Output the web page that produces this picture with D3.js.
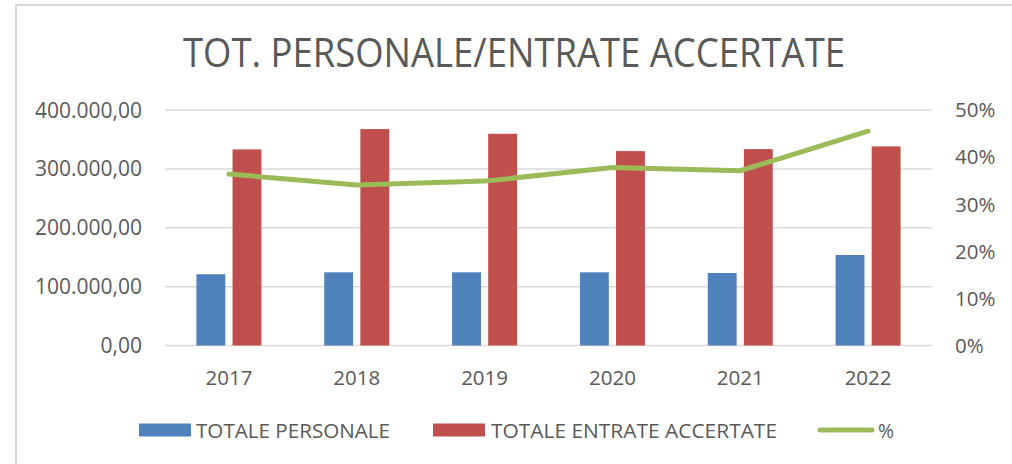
<!DOCTYPE html>
<html>
<head>
<meta charset="utf-8">
<script src="https://cdn.jsdelivr.net/npm/d3@7"></script>
<style>
  html, body { margin: 0; padding: 0; background: #fff; }
  svg { display: block; }
  text { font-family: "Open Sans", "Noto Sans", sans-serif; fill: #595959; }
</style>
</head>
<body>
<svg id="chart" width="1012" height="464"></svg>
<script>
const years = ["2017", "2018", "2019", "2020", "2021", "2022"];
const totalePersonale = [121000, 124300, 124300, 124300, 123100, 153700];
const totaleEntrate = [333100, 367600, 359600, 330200, 333600, 338200];
const percentuale = [0.364, 0.341, 0.349, 0.378, 0.371, 0.455];
const leftTicks = [0, 100000, 200000, 300000, 400000];
const rightTicks = [0, 0.1, 0.2, 0.3, 0.4, 0.5];
const seriesNames = ["TOTALE PERSONALE", "TOTALE ENTRATE ACCERTATE", "%"];
const colors = ["#4F81BD", "#C0504D", "#9BBB59"];
const titleText = "TOT. PERSONALE/ENTRATE ACCERTATE";

const svg = d3.select("#chart");
const grid = "#D9D9D9";

// chart border
svg.append("line").attr("x1", 15).attr("x2", 1012).attr("y1", 5).attr("y2", 5)
  .attr("stroke", grid).attr("stroke-width", 2);
svg.append("line").attr("x1", 16).attr("x2", 16).attr("y1", 4).attr("y2", 464)
  .attr("stroke", grid).attr("stroke-width", 2);

// title
svg.append("text").attr("x", 514).attr("y", 67).attr("text-anchor", "middle")
  .attr("font-size", 40).attr("textLength", 662).attr("lengthAdjust", "spacingAndGlyphs")
  .text(titleText);

const plotLeft = 165, plotRight = 932, plotTop = 110, plotBottom = 345.5;

const x0 = d3.scaleBand().domain(years).range([plotLeft, plotRight]).padding(0);
const bw = x0.bandwidth();
const x1 = d3.scaleBand().domain([0, 1]).range([bw / 2 - 32.5, bw / 2 + 32.5]).paddingInner(0.2);
const yL = d3.scaleLinear().domain([0, 400000]).range([plotBottom, plotTop]);
const yR = d3.scaleLinear().domain([0, 0.5]).range([plotBottom, plotTop]);

const locale = d3.formatLocale({ decimal: ",", thousands: ".", grouping: [3], currency: ["€", ""] });
const fmtL = locale.format(",.2f");
const fmtR = d3.format(".0%");

// gridlines
svg.append("g").selectAll("line").data(leftTicks).join("line")
  .attr("x1", plotLeft).attr("x2", plotRight)
  .attr("y1", d => yL(d)).attr("y2", d => yL(d))
  .attr("stroke", grid).attr("stroke-width", 1.5);

// left axis labels
svg.append("g").selectAll("text").data(leftTicks).join("text")
  .attr("x", 142).attr("y", d => yL(d)).attr("dy", "0.36em")
  .attr("text-anchor", "end").attr("font-size", 21)
  .text(d => fmtL(d));

// right axis labels
svg.append("g").selectAll("text").data(rightTicks).join("text")
  .attr("x", 955).attr("y", d => yR(d)).attr("dy", "0.36em")
  .attr("text-anchor", "start").attr("font-size", 20.5)
  .text(d => fmtR(d));

// x labels
svg.append("g").selectAll("text").data(years).join("text")
  .attr("x", d => x0(d) + bw / 2).attr("y", 384.5)
  .attr("text-anchor", "middle").attr("font-size", 20.5)
  .text(d => d);

// bars
const barData = [];
years.forEach((yr, i) => {
  barData.push({ year: yr, s: 0, v: totalePersonale[i] });
  barData.push({ year: yr, s: 1, v: totaleEntrate[i] });
});
svg.append("g").selectAll("rect").data(barData).join("rect")
  .attr("x", d => x0(d.year) + x1(d.s))
  .attr("width", x1.bandwidth())
  .attr("y", d => yL(d.v))
  .attr("height", d => yL(0) - yL(d.v))
  .attr("fill", d => colors[d.s]);

// line
const line = d3.line().x((d, i) => x0(years[i]) + bw / 2).y(d => yR(d));
svg.append("path").datum(percentuale).attr("d", line)
  .attr("fill", "none").attr("stroke", colors[2]).attr("stroke-width", 5)
  .attr("stroke-linecap", "round").attr("stroke-linejoin", "round");

// legend
const lg = svg.append("g");
const legendY = 430;
lg.append("rect").attr("x", 139).attr("y", legendY - 6.5).attr("width", 52).attr("height", 13).attr("fill", colors[0]);
lg.append("text").attr("x", 196).attr("y", legendY + 7.5).attr("font-size", 20)
  .attr("textLength", 194).attr("lengthAdjust", "spacingAndGlyphs").text(seriesNames[0]);
lg.append("rect").attr("x", 433).attr("y", legendY - 6.5).attr("width", 52).attr("height", 13).attr("fill", colors[1]);
lg.append("text").attr("x", 491).attr("y", legendY + 7.5).attr("font-size", 20)
  .attr("textLength", 286).attr("lengthAdjust", "spacingAndGlyphs").text(seriesNames[1]);
lg.append("line").attr("x1", 820).attr("x2", 872).attr("y1", legendY).attr("y2", legendY)
  .attr("stroke", colors[2]).attr("stroke-width", 5).attr("stroke-linecap", "round");
lg.append("text").attr("x", 878).attr("y", legendY + 7.5).attr("font-size", 20)
  .attr("textLength", 16).attr("lengthAdjust", "spacingAndGlyphs").text(seriesNames[2]);
</script>
</body>
</html>
